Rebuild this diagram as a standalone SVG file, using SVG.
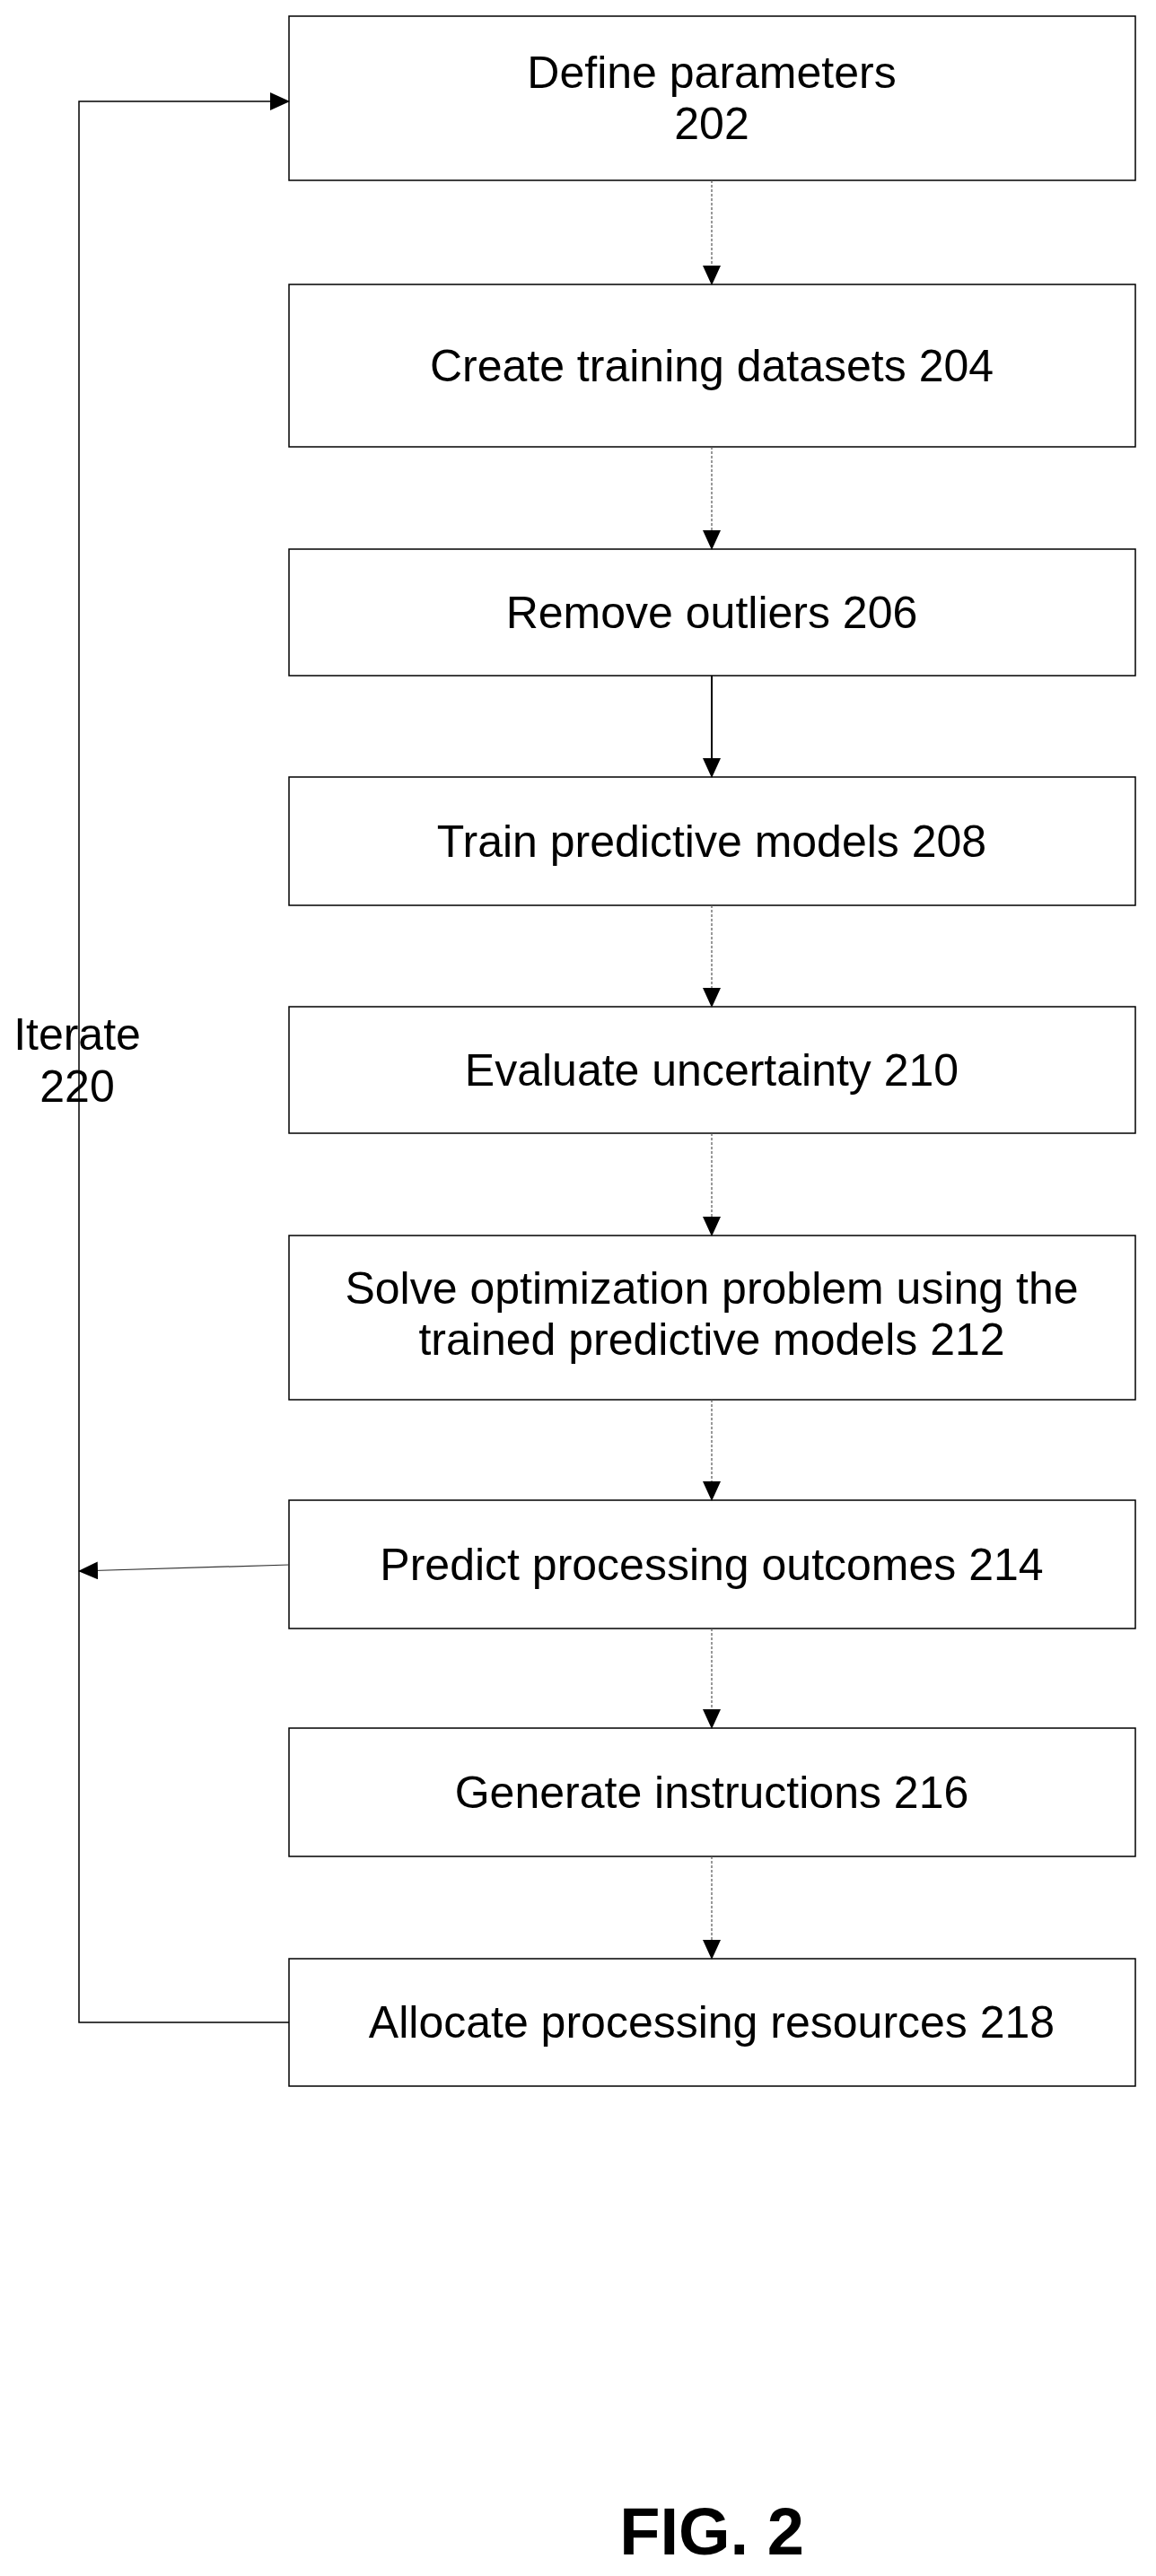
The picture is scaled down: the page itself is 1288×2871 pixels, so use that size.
<svg xmlns="http://www.w3.org/2000/svg" width="1288" height="2871" viewBox="0 0 1288 2871">
<style>
.box{fill:#fff;stroke:#000;stroke-width:1.5}
.t{font-family:"Liberation Sans",Arial,sans-serif;font-size:50px;fill:#000;text-anchor:middle}
.c{stroke:#555;stroke-width:1.2;fill:none;stroke-dasharray:3 2}
.s{stroke:#000;stroke-width:2;fill:none}
</style>
<defs><marker id="a" markerWidth="22" markerHeight="20" refX="21" refY="10" orient="auto" markerUnits="userSpaceOnUse"><path d="M0,0 L22,10 L0,20 Z" fill="#000"/></marker></defs>
<rect width="1288" height="2871" fill="#fff"/>
<g id="n202"><rect class="box" x="322" y="18" width="943" height="183"/><text class="t" x="793" y="98">Define parameters</text><text class="t" x="793" y="155">202</text></g>
<g id="n204"><rect class="box" x="322" y="317" width="943" height="181"/><text class="t" x="793" y="425">Create training datasets 204</text></g>
<g id="n206"><rect class="box" x="322" y="612" width="943" height="141"/><text class="t" x="793" y="700">Remove outliers 206</text></g>
<g id="n208"><rect class="box" x="322" y="866" width="943" height="143"/><text class="t" x="793" y="955">Train predictive models 208</text></g>
<g id="n210"><rect class="box" x="322" y="1122" width="943" height="141"/><text class="t" x="793" y="1210">Evaluate uncertainty 210</text></g>
<g id="n212"><rect class="box" x="322" y="1377" width="943" height="183"/><text class="t" x="793" y="1453">Solve optimization problem using the</text><text class="t" x="793" y="1510">trained predictive models 212</text></g>
<g id="n214"><rect class="box" x="322" y="1672" width="943" height="143"/><text class="t" x="793" y="1761">Predict processing outcomes 214</text></g>
<g id="n216"><rect class="box" x="322" y="1926" width="943" height="143"/><text class="t" x="793" y="2015">Generate instructions 216</text></g>
<g id="n218"><rect class="box" x="322" y="2183" width="943" height="142"/><text class="t" x="793" y="2271">Allocate processing resources 218</text></g>
<g id="label220"><text class="t" x="86" y="1170">Iterate</text><text class="t" x="86" y="1228">220</text></g>
<g id="connectors">
<path class="c" d="M793,201 V317" marker-end="url(#a)"/>
<path class="c" d="M793,498 V612" marker-end="url(#a)"/>
<path class="s" d="M793,753 V866" marker-end="url(#a)"/>
<path class="c" d="M793,1009 V1122" marker-end="url(#a)"/>
<path class="c" d="M793,1263 V1377" marker-end="url(#a)"/>
<path class="c" d="M793,1560 V1672" marker-end="url(#a)"/>
<path class="c" d="M793,1815 V1926" marker-end="url(#a)"/>
<path class="c" d="M793,2069 V2183" marker-end="url(#a)"/>
<path stroke="#333" stroke-width="1.2" fill="none" d="M322,1744 L88,1751" marker-end="url(#a)"/>
<path stroke="#000" stroke-width="1.5" fill="none" d="M322,2254 H88 V113 H322" marker-end="url(#a)"/>
</g>
<text x="793" y="2847" font-family="Liberation Sans,Arial,sans-serif" font-weight="bold" font-size="74" text-anchor="middle">FIG. 2</text>
</svg>
